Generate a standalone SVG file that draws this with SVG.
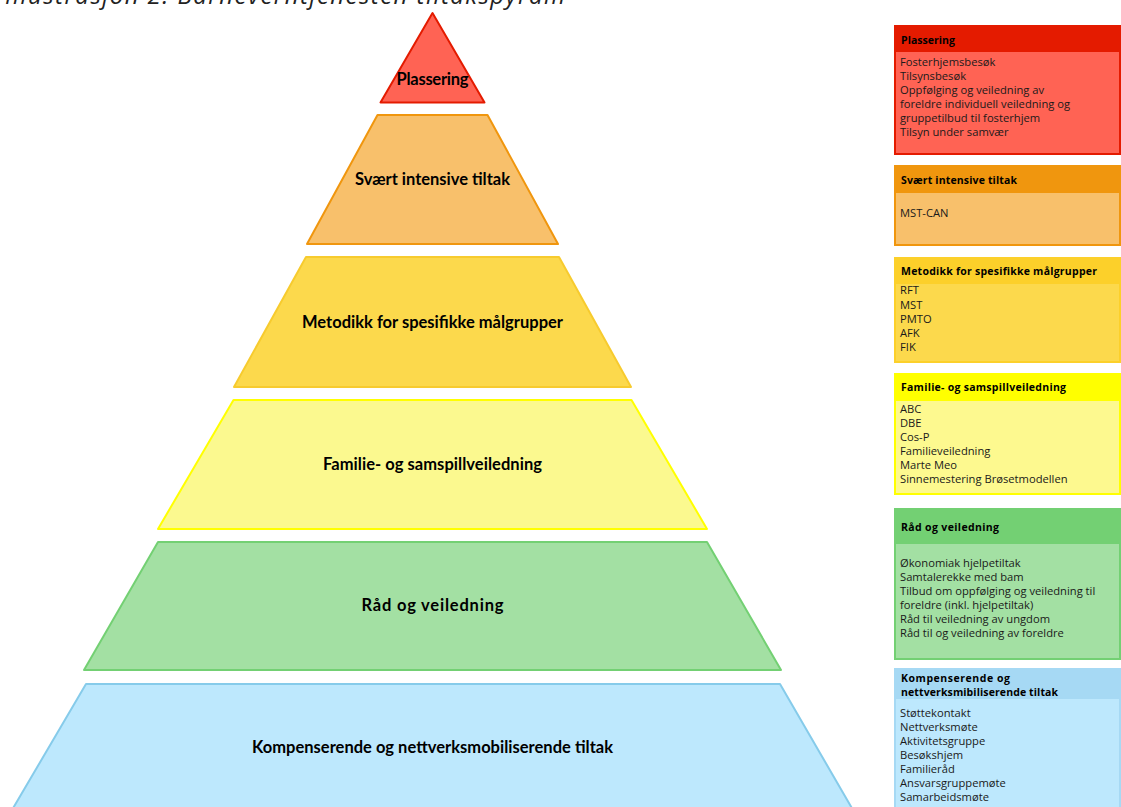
<svg xmlns="http://www.w3.org/2000/svg" width="1121" height="807" viewBox="0 0 1121 807">
<style>
.lbl{font-family:Lato,"Open Sans","Liberation Sans",sans-serif;font-weight:bold;font-size:16.5px;fill:#000;text-anchor:middle}
.hd{font-family:"Open Sans","Noto Sans","Liberation Sans",sans-serif;font-weight:bold;font-size:10.5px;fill:#000}
.bd{font-family:"Open Sans","Noto Sans","Liberation Sans",sans-serif;font-size:11.2px;fill:#1a1a1a}
.title{font-family:"Open Sans","Liberation Sans",sans-serif;font-style:italic;font-size:24px;fill:#222}
.lv{stroke-width:2;stroke-linejoin:round}
</style>
<rect width="1121" height="807" fill="#fff"/>
<text class="title" x="5" y="4" textLength="560">Illustrasjon 2: Barneverntjenesten tiltakspyram</text>

<g id="level-plassering">
<polygon class="lv" points="432.5,13 380.5,102.5 484.5,102.5" fill="#ff6354" stroke="#e41b00"/>
<text class="lbl" x="432.5" y="85" textLength="72">Plassering</text>
</g>
<g id="level-svaert-intensive">
<polygon class="lv" points="377.5,115 487.5,115 558,244 307,244" fill="#f8c06b" stroke="#f0960e"/>
<text class="lbl" x="432.5" y="185" textLength="155">Svært intensive tiltak</text>
</g>
<g id="level-metodikk">
<polygon class="lv" points="306,257 559,257 631,387 234,387" fill="#fcd94c" stroke="#f7cb2e"/>
<text class="lbl" x="432.5" y="328" textLength="261">Metodikk for spesifikke målgrupper</text>
</g>
<g id="level-familie">
<polygon class="lv" points="233.5,400 631.5,400 707,529 158,529" fill="#fbf98f" stroke="#ffff00"/>
<text class="lbl" x="432.5" y="470" textLength="219">Familie- og samspillveiledning</text>
</g>
<g id="level-raad">
<polygon class="lv" points="158,542 707,542 781,670 84,670" fill="#a3e0a3" stroke="#73d073"/>
<text class="lbl" x="432.5" y="611" textLength="142">Råd og veiledning</text>
</g>
<g id="level-kompenserende">
<polygon class="lv" points="86,684 780,684 853,810 12,810" fill="#bde8fd" stroke="#86cbea"/>
<text class="lbl" x="432.5" y="753" textLength="361">Kompenserende og nettverksmobiliserende tiltak</text>
</g>

<g id="box-plassering">
<rect x="895" y="26" width="225" height="128" fill="#ff6354" stroke="#e41b00" stroke-width="2"/>
<rect x="895" y="26" width="225" height="26" fill="#e41b00"/>
<text class="hd" x="901" y="44" textLength="54">Plassering</text>
<text class="bd" x="900" y="66">Fosterhjemsbesøk</text>
<text class="bd" x="900" y="80">Tilsynsbesøk</text>
<text class="bd" x="900" y="94">Oppfølging og veiledning av</text>
<text class="bd" x="900" y="108">foreldre individuell veiledning og</text>
<text class="bd" x="900" y="122">gruppetilbud til fosterhjem</text>
<text class="bd" x="900" y="136">Tilsyn under samvær</text>
</g>
<g id="box-svaert-intensive">
<rect x="895" y="166" width="225" height="79" fill="#f8c06b" stroke="#f0960e" stroke-width="2"/>
<rect x="895" y="166" width="225" height="27" fill="#f0960e"/>
<text class="hd" x="901" y="184" textLength="116">Svært intensive tiltak</text>
<text class="bd" x="900" y="217">MST-CAN</text>
</g>
<g id="box-metodikk">
<rect x="895" y="258" width="225" height="104" fill="#fcd94c" stroke="#fcd02a" stroke-width="2"/>
<rect x="895" y="258" width="225" height="26" fill="#fcd02a"/>
<text class="hd" x="901" y="275" textLength="196">Metodikk for spesifikke målgrupper</text>
<text class="bd" x="900" y="294">RFT</text>
<text class="bd" x="900" y="309">MST</text>
<text class="bd" x="900" y="323">PMTO</text>
<text class="bd" x="900" y="337">AFK</text>
<text class="bd" x="900" y="351">FIK</text>
</g>
<g id="box-familie">
<rect x="895" y="374" width="225" height="120" fill="#fdf98f" stroke="#ffff00" stroke-width="2"/>
<rect x="895" y="374" width="225" height="27" fill="#ffff00"/>
<text class="hd" x="901" y="391" textLength="165">Familie- og samspillveiledning</text>
<text class="bd" x="900" y="413">ABC</text>
<text class="bd" x="900" y="427">DBE</text>
<text class="bd" x="900" y="441">Cos-P</text>
<text class="bd" x="900" y="455">Familieveiledning</text>
<text class="bd" x="900" y="469">Marte Meo</text>
<text class="bd" x="900" y="483">Sinnemestering Brøsetmodellen</text>
</g>
<g id="box-raad">
<rect x="895" y="509" width="225" height="150" fill="#a3e0a3" stroke="#73d073" stroke-width="2"/>
<rect x="895" y="509" width="225" height="35" fill="#73d073"/>
<text class="hd" x="901" y="531" textLength="98">Råd og veiledning</text>
<text class="bd" x="900" y="567">Økonomiak hjelpetiltak</text>
<text class="bd" x="900" y="581">Samtalerekke med bam</text>
<text class="bd" x="900" y="595">Tilbud om oppfølging og veiledning til</text>
<text class="bd" x="900" y="609">foreldre (inkl. hjelpetiltak)</text>
<text class="bd" x="900" y="623">Råd til veiledning av ungdom</text>
<text class="bd" x="900" y="637">Råd til og veiledning av foreldre</text>
</g>
<g id="box-kompenserende">
<rect x="895" y="669" width="225" height="145" fill="#bde8fd" stroke="#a6d9f4" stroke-width="2"/>
<rect x="895" y="669" width="225" height="30" fill="#a6d9f4"/>
<text class="hd" x="901" y="682" textLength="109">Kompenserende og</text>
<text class="hd" x="901" y="696" textLength="157">nettverksmibiliserende tiltak</text>
<text class="bd" x="900" y="717">Støttekontakt</text>
<text class="bd" x="900" y="731">Nettverksmøte</text>
<text class="bd" x="900" y="745">Aktivitetsgruppe</text>
<text class="bd" x="900" y="759">Besøkshjem</text>
<text class="bd" x="900" y="773">Familieråd</text>
<text class="bd" x="900" y="787">Ansvarsgruppemøte</text>
<text class="bd" x="900" y="801">Samarbeidsmøte</text>
</g>
</svg>
